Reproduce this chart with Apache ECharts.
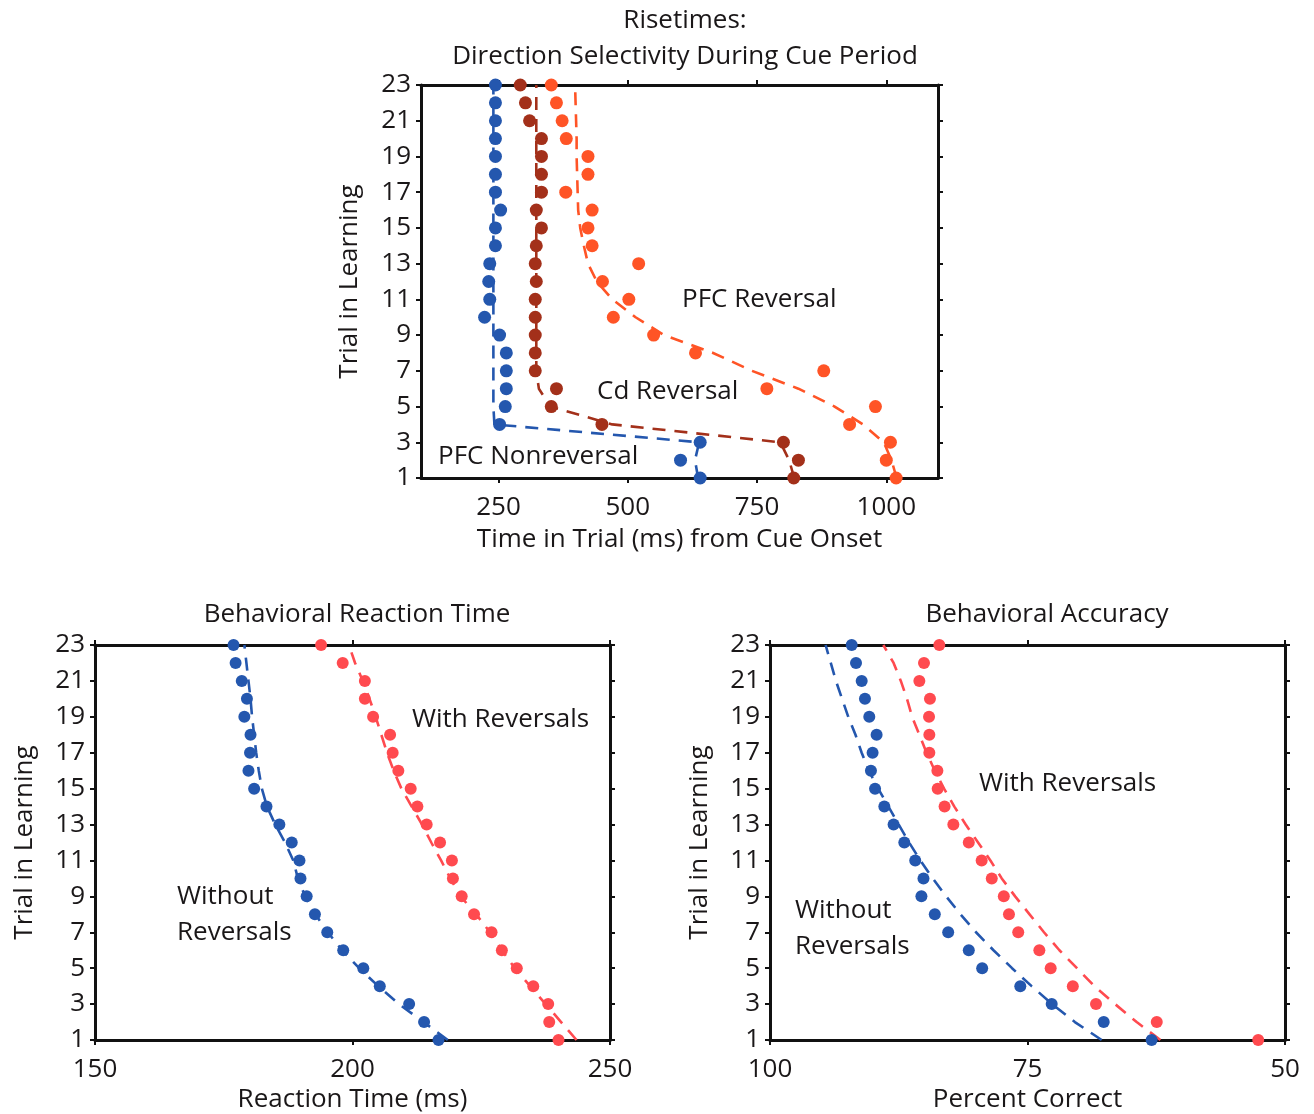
<!DOCTYPE html>
<html>
<head>
<meta charset="utf-8">
<script src="https://cdn.jsdelivr.net/npm/echarts@6/dist/echarts.min.js"></script>
<style>
html,body{margin:0;padding:0;background:#fff;}
#c{width:1314px;height:1114px;}
</style>
</head>
<body>
<div id="c"></div>
<script>
// ---------- DATA (index = trial 1..23) ----------
const trials = [1,2,3,4,5,6,7,8,9,10,11,12,13,14,15,16,17,18,19,20,21,22,23];
const trialTicks = [1,3,5,7,9,11,13,15,17,19,21,23];

// Top: Risetimes (ms)
const pfcNonrevDots = [640,602,640,252,263,265,265,265,252,223,233,231,233,244,244,254,244,244,244,244,244,244,244];
const pfcNonrevFit  = [636,630,638,242,240,240,240,240,240,240,240,240,240,240,240,240,240,240,240,240,240,240,240];
const cdRevDots     = [821,830,801,450,352,362,321,321,321,321,321,323,321,323,333,323,333,333,333,333,310,302,292];
const cdRevFit      = [822,812,795,470,350,328,323,323,323,323,323,323,323,323,323,323,323,323,323,323,323,323,323];
const pfcRevDots    = [1019,1000,1008,929,979,769,879,631,550,472,502,451,521,431,423,431,380,423,423,381,373,362,352];
const pfcRevFit     = [1020,1010,995,955,900,830,740,665,570,515,470,440,423,415,408,404,403,402,401,401,400,399,398];
const topXTicks = [250,500,750,1000];

// Bottom left: Reaction time (ms)
const rtWithoutDots = [216.7,213.9,211.0,205.3,202.1,198.2,195.1,192.7,191.1,189.9,189.7,188.2,185.8,183.3,180.9,179.8,180.1,180.2,179.0,179.5,178.5,177.3,176.9];
const rtWithoutFit  = [218.5,213.8,209.0,205.0,201.3,198.0,195.2,192.8,190.8,189.4,188.5,186.9,185.0,183.4,182.4,181.8,181.3,180.9,180.5,180.2,179.8,179.4,179.0];
const rtWithDots    = [240.0,238.2,238.0,235.1,231.9,229.0,227.0,223.6,221.2,219.5,219.3,217.0,214.4,212.6,211.3,208.9,207.8,207.3,204.0,202.4,202.4,198.1,193.9];
const rtWithFit     = [243.5,240.5,237.5,234.5,231.5,229.0,226.7,224.0,221.0,219.0,217.2,215.3,213.5,211.5,209.5,208.0,206.7,205.6,204.5,203.3,202.0,200.5,199.3];
const rtXTicks = [150,200,250];

// Bottom right: Accuracy (% correct)
const accWithoutDots = [62.95,67.6,72.65,75.7,79.4,80.7,82.7,84.0,85.3,85.1,85.9,86.96,88.0,88.9,89.8,90.2,90.04,89.65,90.36,90.78,91.1,91.65,92.07];
const accWithoutFit  = [67.8,70.4,72.6,74.6,76.5,78.3,80.0,81.5,82.9,84.2,85.4,86.5,87.5,88.5,89.5,90.4,91.1,91.7,92.4,93.0,93.6,94.1,94.6];
const accWithDots    = [52.6,62.45,68.35,70.6,72.75,73.85,75.9,76.8,77.3,78.47,79.45,80.7,82.2,83.05,83.72,83.75,84.53,84.53,84.56,84.47,85.5,85.05,83.56];
const accWithFit     = [62.1,64.4,66.5,68.5,70.2,71.9,73.4,74.8,76.2,77.5,78.6,79.8,81.0,82.1,83.1,84.0,84.8,85.5,86.2,86.7,87.3,88.0,89.0];
const accXTicks = [100,75,50];

// ---------- STYLE ----------
const FONT = 'Open Sans';
const TXT = '#1a1718';
const BLUE = '#2457ae';
const DARKRED = '#a3301a';
const ORANGE = '#ff5426';
const LRED = '#ff4a4f';
const FS = 26;

const pairs = (vals) => vals.map((v, i) => [v, trials[i]]);
const plain = (v) => String(v);

function xAx(gi, min, max, ticks, name, nameGap, opts) {
  const base = {
    type: 'value', gridIndex: gi, min: min, max: max, position: 'bottom',
    axisLine: { show: true, onZero: false, lineStyle: { color: '#111', width: 3 } },
    axisTick: { show: true, length: 5, inside: false, customValues: ticks, lineStyle: { color: '#111', width: 2 } },
    axisLabel: { show: true, customValues: ticks, formatter: plain, color: TXT, fontFamily: FONT, fontSize: FS, margin: 17 },
    splitLine: { show: false },
    name: name, nameLocation: 'middle', nameGap: nameGap,
    nameTextStyle: { color: TXT, fontFamily: FONT, fontSize: FS }
  };
  return Object.assign(base, opts || {});
}
function xAxTop(gi, min, max, ticks, opts) {
  return Object.assign({
    type: 'value', gridIndex: gi, min: min, max: max, position: 'top',
    axisLine: { show: true, onZero: false, lineStyle: { color: '#111', width: 3 } },
    axisTick: { show: true, length: 5, customValues: ticks, lineStyle: { color: '#111', width: 2 } },
    axisLabel: { show: false }, splitLine: { show: false }
  }, opts || {});
}
function yAx(gi, nameGap) {
  return {
    type: 'value', gridIndex: gi, min: 1, max: 23, position: 'left',
    axisLine: { show: true, onZero: false, lineStyle: { color: '#111', width: 3 } },
    axisTick: { show: true, length: 5, customValues: trialTicks, lineStyle: { color: '#111', width: 2 } },
    axisLabel: { show: true, customValues: trialTicks, formatter: plain, color: TXT, fontFamily: FONT, fontSize: FS, margin: 10 },
    splitLine: { show: false },
    name: 'Trial in Learning', nameLocation: 'middle', nameGap: nameGap, nameRotate: 90,
    nameTextStyle: { color: TXT, fontFamily: FONT, fontSize: FS }
  };
}
function yAxRight(gi) {
  return {
    type: 'value', gridIndex: gi, min: 1, max: 23, position: 'right',
    axisLine: { show: true, onZero: false, lineStyle: { color: '#111', width: 3 } },
    axisTick: { show: true, length: 5, customValues: trialTicks, lineStyle: { color: '#111', width: 2 } },
    axisLabel: { show: false }, splitLine: { show: false }
  };
}
function dots(xi, yi, vals, color, size) {
  return { type: 'scatter', xAxisIndex: xi, yAxisIndex: yi, data: pairs(vals), symbol: 'circle', symbolSize: size,
    itemStyle: { color: color, opacity: 1 }, z: 3, silent: true };
}
function fit(xi, yi, vals, color) {
  return { type: 'line', xAxisIndex: xi, yAxisIndex: yi, data: pairs(vals), showSymbol: false, symbol: 'none',
    lineStyle: { color: color, width: 2.6, type: [13, 9] }, z: 2, silent: true, animation: false };
}

const chart = echarts.init(document.getElementById('c'), null, { renderer: 'canvas' });
const titleStyle = { color: TXT, fontFamily: FONT, fontSize: FS, fontWeight: 'normal' };
const annot = (x, y, text) => ({ type: 'text', left: x, top: y, style: { text: text, fill: TXT, font: FS + 'px "' + FONT + '"', lineHeight: 36 } });

chart.setOption({
  animation: false,
  backgroundColor: '#fff',
  title: [
    { text: 'Risetimes:', left: 680, top: 3, textAlign: 'center', textStyle: titleStyle },
    { text: 'Direction Selectivity During Cue Period', left: 680, top: 39, textAlign: 'center', textStyle: titleStyle },
    { text: 'Behavioral Reaction Time', left: 352, top: 597, textAlign: 'center', textStyle: titleStyle },
    { text: 'Behavioral Accuracy', left: 1042, top: 597, textAlign: 'center', textStyle: titleStyle }
  ],
  grid: [
    { left: 421, top: 85, width: 517, height: 393 },
    { left: 95, top: 645, width: 515, height: 395 },
    { left: 770, top: 645, width: 515, height: 395 }
  ],
  xAxis: [
    xAx(0, 100, 1100, topXTicks, 'Time in Trial (ms) from Cue Onset', 49),
    xAxTop(0, 100, 1100, topXTicks),
    xAx(1, 150, 250, rtXTicks, 'Reaction Time (ms)', 47),
    xAxTop(1, 150, 250, rtXTicks),
    xAx(2, 50, 100, accXTicks, 'Percent Correct', 47, { inverse: true }),
    xAxTop(2, 50, 100, accXTicks, { inverse: true })
  ],
  yAxis: [
    yAx(0, 58), yAxRight(0),
    yAx(1, 57), yAxRight(1),
    yAx(2, 57), yAxRight(2)
  ],
  series: [
    fit(0, 0, pfcNonrevFit, BLUE),
    fit(0, 0, cdRevFit, DARKRED),
    fit(0, 0, pfcRevFit, ORANGE),
    dots(0, 0, pfcNonrevDots, BLUE, 13),
    dots(0, 0, cdRevDots, DARKRED, 13),
    dots(0, 0, pfcRevDots, ORANGE, 13),
    fit(2, 2, rtWithoutFit, BLUE),
    fit(2, 2, rtWithFit, LRED),
    dots(2, 2, rtWithoutDots, BLUE, 12),
    dots(2, 2, rtWithDots, LRED, 12),
    fit(4, 4, accWithoutFit, BLUE),
    fit(4, 4, accWithFit, LRED),
    dots(4, 4, accWithoutDots, BLUE, 12),
    dots(4, 4, accWithDots, LRED, 12)
  ],
  graphic: [
    annot(682, 282, 'PFC Reversal'),
    annot(597, 374, 'Cd Reversal'),
    annot(438, 439, 'PFC Nonreversal'),
    annot(412, 702, 'With Reversals'),
    annot(177, 879, 'Without\nReversals'),
    annot(979, 766, 'With Reversals'),
    annot(795, 893, 'Without\nReversals')
  ]
});
</script>
</body>
</html>
